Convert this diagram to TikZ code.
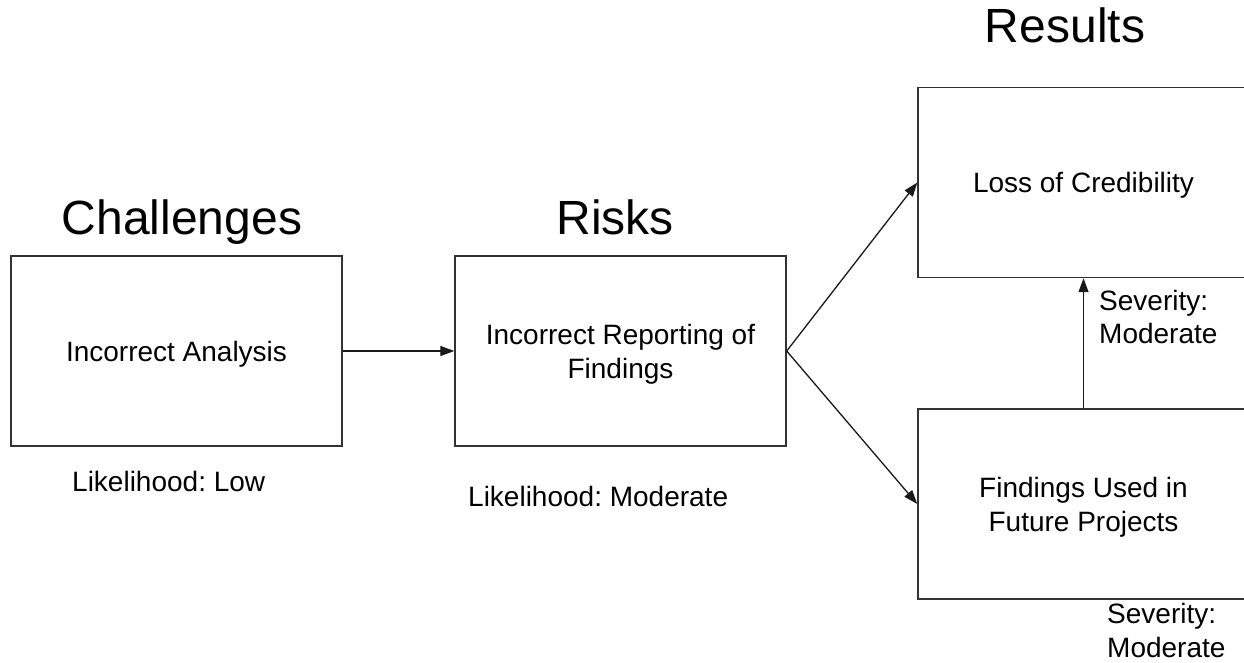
\documentclass[tikz,border=0pt]{standalone}
\usepackage{fontspec}
\setmainfont{Liberation Sans}
\usetikzlibrary{arrows.meta}
\frenchspacing
\newcommand{\firstline}{\rule{0pt}{27pt}}
\begin{document}
\begin{tikzpicture}[x=1pt,y=-1pt,
  stepbox/.style={draw=black!80,line width=1.4pt,minimum width=331pt,minimum height=190pt,
    inner sep=0pt,align=center,font=\fontsize{28}{33.5}\selectfont},
  oneline/.style={text height=20pt,text depth=0pt},
  heading/.style={inner sep=0pt,anchor=base,font=\fontsize{48}{56}\selectfont},
  note/.style={inner sep=0pt,align=left,font=\fontsize{28}{33.5}\selectfont},
  link/.style={line width=1.3pt,draw=black!90,-{Triangle[length=14pt,width=10pt]}}]
  \clip (0,0) rectangle (1244,662);
  \fill[white] (0,0) rectangle (1244,662);

  % column headings
  \node[heading] (hchal) at (182,234) {Challenges};
  \node[heading] (hrisk) at (615,234) {Risks};
  \node[heading] (hres)  at (1065,42) {Results};

  % boxes
  \node[stepbox,oneline] (anal) at (176.5,351) {Incorrect Analysis};
  \node[stepbox] (rep) at (620.5,351) {\firstline Incorrect Reporting of\\Findings};
  \node[stepbox,oneline] (cred) at (1083.5,182.5) {Loss of Credibility};
  \node[stepbox] (fut) at (1083.5,504) {\firstline Findings Used in\\Future Projects};

  % ratings
  \node[note,anchor=base west] (llow) at (72,491) {Likelihood: Low};
  \node[note,anchor=base west] (lmod) at (468,506) {Likelihood: Moderate};
  \node[note,anchor=north west] (sev1) at (1099,290) {Severity:\\Moderate};
  \node[note,anchor=north west] (sev2) at (1107,603) {Severity:\\Moderate};

  % connectors
  \draw[link] (anal.east) -- (rep.west);
  \draw[link] (rep.east) -- (cred.west);
  \draw[link] (rep.east) -- (fut.west);
  \draw[link] (fut.north) -- (cred.south);
\end{tikzpicture}
\end{document}
